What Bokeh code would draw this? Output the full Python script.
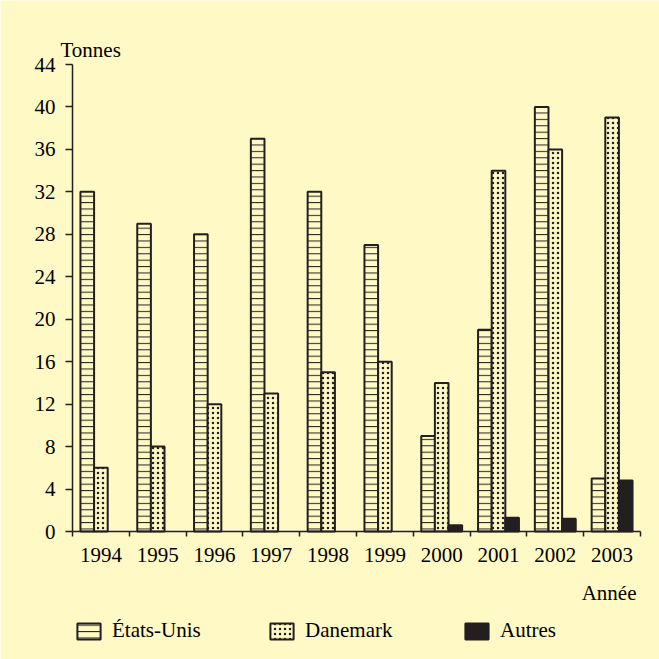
from bokeh.plotting import figure
from bokeh.models import (ColumnDataSource, FixedTicker, Range1d, Legend, LegendItem, Label)
from bokeh.transform import dodge
from bokeh.embed import file_html
from bokeh.resources import INLINE

nan = float("nan")
years = ["1994", "1995", "1996", "1997", "1998", "1999", "2000", "2001", "2002", "2003"]
etats_unis = [32, 29, 28, 37, 32, 27, 9, 19, 40, 5]
danemark = [6, 8, 12, 13, 15, 16, 14, 34, 36, 39]
autres = [nan, nan, nan, nan, nan, nan, 0.6, 1.3, 1.2, 4.8]
y_ticks = [0, 4, 8, 12, 16, 20, 24, 28, 32, 36, 40, 44]
series_names = ["États-Unis", "Danemark", "Autres"]

BG = "#FFF9C6"
INK = "#231F20"
FONT = "Liberation Serif"
FS = "21px"

# layout (pixels): frame covers the whole canvas, data area mapped inside it
W = H = 659
X0_PX, X1_PX = 72, 640      # x = 0 .. n
Y0_PX, Y1_PX = 531, 64      # y = 0 .. 44
n = len(years)
ppx = (X1_PX - X0_PX) / n
ppy = (Y0_PX - Y1_PX) / 44.0
xr = Range1d(-X0_PX / ppx, (W - X0_PX) / ppx)
yr = Range1d(-(H - Y0_PX) / ppy, Y0_PX / ppy)

centers = [i + 0.5 for i in range(n)]
src = ColumnDataSource(dict(x=centers, us=etats_unis, dk=danemark, au=autres))

p = figure(width=W, height=H, output_backend="svg", toolbar_location=None,
           x_range=xr, y_range=yr,
           min_border_left=0, min_border_right=0, min_border_top=0, min_border_bottom=0)
p.background_fill_color = BG
p.border_fill_color = BG
p.outline_line_color = None
p.xgrid.visible = False
p.ygrid.visible = False

w = 0.24
r_us = p.vbar(x=dodge("x", -w, range=p.x_range), top="us", width=w, source=src,
              fill_color=BG, line_color=INK, line_width=2,
              hatch_pattern="horizontal_line", hatch_scale=6.4, hatch_weight=1, hatch_color=INK)
r_dk = p.vbar(x=dodge("x", 0, range=p.x_range), top="dk", width=w, source=src,
              fill_color=BG, line_color=INK, line_width=2,
              hatch_pattern="dot", hatch_scale=5, hatch_weight=2.5, hatch_color=INK)
r_au = p.vbar(x=dodge("x", w, range=p.x_range), top="au", width=w, source=src,
              fill_color=INK, line_color=INK, line_width=2)

xa = p.xaxis[0]
xa.fixed_location = 0
xa.bounds = (0, n)
xa.ticker = FixedTicker(ticks=centers, minor_ticks=list(range(n + 1)))
xa.major_label_overrides = {c: y for c, y in zip(centers, years)}
xa.major_tick_out = 0
xa.major_tick_in = 0
xa.minor_tick_out = 5
xa.minor_tick_in = 0
xa.minor_tick_line_color = INK
xa.minor_tick_line_width = 1.5
xa.axis_line_color = INK
xa.axis_line_width = 1.5
xa.major_label_text_font = FONT
xa.major_label_text_font_size = FS
xa.major_label_text_color = "black"
xa.major_label_standoff = 11

ya = p.yaxis[0]
ya.fixed_location = 0
ya.bounds = (0, 44)
ya.ticker = FixedTicker(ticks=y_ticks)
ya.minor_tick_line_color = None
ya.major_tick_out = 7
ya.major_tick_in = 0
ya.major_tick_line_color = INK
ya.major_tick_line_width = 1.5
ya.axis_line_color = INK
ya.axis_line_width = 1.5
ya.major_label_text_font = FONT
ya.major_label_text_font_size = FS
ya.major_label_text_color = "black"
ya.major_label_standoff = 10

p.add_layout(Label(x=(60 - X0_PX) / ppx, y=(Y0_PX - 49) / ppy, text="Tonnes",
                   text_font=FONT, text_font_size=FS, text_color="black",
                   text_baseline="alphabetic", text_align="left"))
p.add_layout(Label(x=(636 - X0_PX) / ppx, y=(Y0_PX - 592) / ppy, text="Année",
                   text_font=FONT, text_font_size=FS, text_color="black",
                   text_baseline="alphabetic", text_align="right"))

legend_x = [74, 267, 462]
for name, r, lx in zip(series_names, [r_us, r_dk, r_au], legend_x):
    lg = Legend(items=[LegendItem(label=name, renderers=[r])],
                orientation="horizontal", location=(lx, H - 643),
                glyph_width=29, glyph_height=20, label_standoff=9,
                padding=0, margin=0, border_line_color=None, background_fill_alpha=0,
                label_text_font=FONT, label_text_font_size=FS, label_text_color="black")
    p.add_layout(lg)

open("out.html", "w").write(file_html(p, INLINE))
